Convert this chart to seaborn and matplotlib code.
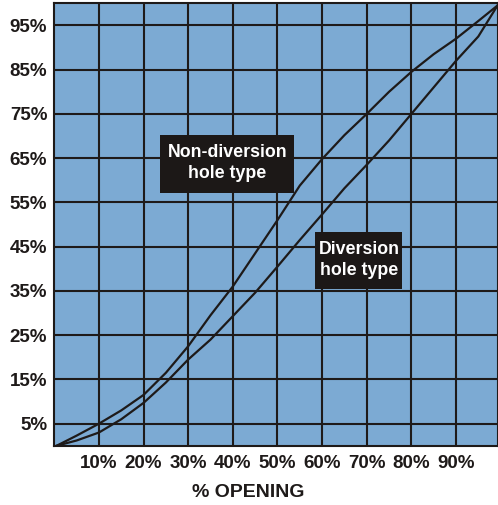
import matplotlib
matplotlib.use("Agg")
import matplotlib.pyplot as plt
import seaborn as sns
import pandas as pd
from matplotlib.patches import Rectangle

# values (% opening -> % flow)
non_div_x = [0.5, 5, 10, 15, 20, 25, 30, 35, 40, 45, 50, 55, 60, 65, 70, 75, 80, 85, 90, 95, 99.3]
non_div_y = [0, 2.3, 5, 8, 11.5, 16.5, 22.5, 29.5, 36, 43.5, 51, 58.8, 64.8, 70.2, 75, 80, 84.5, 88.5, 92, 96, 99.5]
div_x = [0.5, 5, 10, 15, 20, 25, 30, 35, 40, 45, 50, 55, 60, 65, 70, 75, 80, 85, 90, 95, 99.3]
div_y = [0, 1.2, 3, 6, 9.7, 14.3, 19.5, 24, 29.3, 34.6, 40.5, 46.5, 52.3, 58.2, 63.5, 69, 75, 81, 87, 92.5, 99.5]

x_ticks = [10, 20, 30, 40, 50, 60, 70, 80, 90]
y_ticks = [5, 15, 25, 35, 45, 55, 65, 75, 85, 95]

plt.rcParams['font.family'] = ['Liberation Sans', 'DejaVu Sans']
plt.rcParams['font.weight'] = 'bold'

bg = '#7caad3'
ink = '#1e1a19'

fig = plt.figure(figsize=(4.98, 5.05), dpi=100)
ax = fig.add_axes([54.3 / 498, 1 - 445.8 / 505, (497.5 - 54.3) / 498, (445.8 - 3.3) / 505])
ax.set_facecolor(bg)

df1 = pd.DataFrame({'x': non_div_x, 'y': non_div_y})
df2 = pd.DataFrame({'x': div_x, 'y': div_y})
sns.lineplot(data=df1, x='x', y='y', ax=ax, color=ink, lw=1.6, sort=True, zorder=3)
sns.lineplot(data=df2, x='x', y='y', ax=ax, color=ink, lw=1.6, sort=True, zorder=3)

ax.set_xlim(0, 99.3)
ax.set_ylim(0, 100)
ax.set_xticks(x_ticks)
ax.set_yticks(y_ticks)
ax.set_xticklabels([f'{v}%' for v in x_ticks])
ax.set_yticklabels([f'{v}%' for v in y_ticks])
ax.grid(True, color=ink, lw=1.5, zorder=1)
ax.set_axisbelow(True)
ax.tick_params(length=0, labelsize=13.5, colors=ink)
ax.tick_params(axis='x', pad=6.5)
ax.tick_params(axis='y', pad=5)
for s in ax.spines.values():
    s.set_color(ink)
    s.set_linewidth(1.5)
ax.set_xlabel('')
ax.set_ylabel('')

# label boxes
ax.add_patch(Rectangle((23.7, 57.1), 30.0, 13.1, facecolor='#1c1817', edgecolor='none', zorder=4))
ax.text(38.8, 63.9, 'Non-diversion\nhole type', color='white', fontsize=12.8, fontweight='bold',
        ha='center', va='center', linespacing=1.3, zorder=5)
ax.add_patch(Rectangle((58.4, 35.4), 19.6, 12.9, facecolor='#1c1817', edgecolor='none', zorder=4))
ax.text(68.3, 42.0, 'Diversion\nhole type', color='white', fontsize=12.8, fontweight='bold',
        ha='center', va='center', linespacing=1.3, zorder=5)

fig.text(248 / 498, 1 - 492.5 / 505, '% OPENING', ha='center', va='center',
         fontsize=14, fontweight='bold', color=ink)

fig.savefig('out.png', dpi=100, facecolor='white')
